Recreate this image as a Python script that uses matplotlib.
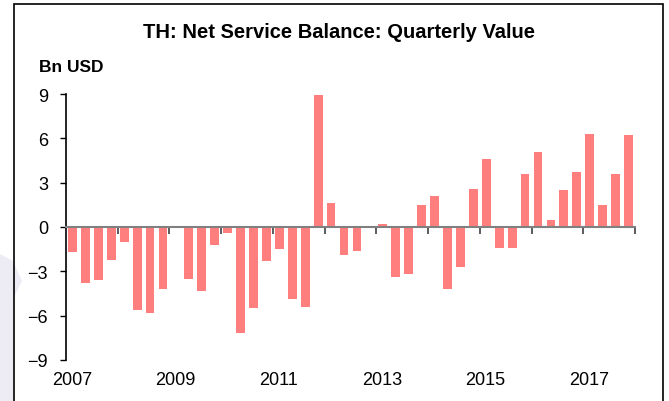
import matplotlib.pyplot as plt
from matplotlib.patches import Polygon, Rectangle

plt.rcParams['font.family'] = ['Liberation Sans', 'DejaVu Sans']

# quarterly values 2007Q1 .. 2017Q4, bn USD
years = list(range(2007, 2018))
values = [
    -1.7, -3.8, -3.6, -2.2,     # 2007
    -1.0, -5.6, -5.8, -4.2,     # 2008
    -0.05, -3.5, -4.3, -1.2,    # 2009
    -0.4, -7.2, -5.5, -2.3,     # 2010
    -1.5, -4.9, -5.4, 8.9,      # 2011
    1.6, -1.9, -1.6, 0.1,       # 2012
    0.2, -3.4, -3.2, 1.5,       # 2013
    2.1, -4.2, -2.7, 2.6,       # 2014
    4.6, -1.4, -1.4, 3.6,       # 2015
    5.1, 0.5, 2.5, 3.7,         # 2016
    6.3, 1.5, 3.6, 6.2,         # 2017
]
yticks = [-9, -6, -3, 0, 3, 6, 9]
year_labels = [str(y) for y in years[::2]]

W, H = 669, 402
fig = plt.figure(figsize=(W / 100, H / 100), dpi=100)

# faint watermark shape at the lower left
wm = [(0, 255), (13, 262), (22, 282), (13, 300), (13, 402), (0, 402)]
fig.patches.append(Polygon([(x / W, 1 - y / H) for x, y in wm], closed=True,
                           transform=fig.transFigure, facecolor='#EDECF5',
                           edgecolor='none', zorder=0))
# outer frame
fig.patches.append(Rectangle((13.5 / W, -0.05), (663 - 13.5) / W, 1 - 5 / H + 0.05,
                             transform=fig.transFigure, fill=False,
                             edgecolor='black', linewidth=1.2, zorder=1))

ax = fig.add_axes([66 / W, (H - 361) / H, (635 - 66) / W, (361 - 95) / H])
ax.patch.set_alpha(0)

x = list(range(len(values)))
ax.bar(x, values, width=0.68, color='#FF7F7F', zorder=2)

ax.set_xlim(-0.5, len(values) - 0.5)
ax.set_ylim(-9, 9)
ax.set_yticks(yticks)
ax.tick_params(axis='y', labelsize=13, length=4, width=1, direction='out', pad=9)

# year boundary ticks on the zero line, labels every two years
ax.spines['bottom'].set_position(('data', 0))
ax.spines['bottom'].set_color('#808080')
ax.spines['bottom'].set_linewidth(1.5)
ax.set_xticks([4 * k - 0.5 for k in range(1, len(years) + 1)])
ax.set_xticklabels([])
ax.tick_params(axis='x', length=5, width=1.2, color='#404040', direction='out')
for i, lab in enumerate(year_labels):
    ax.text(8 * i - 0.05, -10.3, lab, ha='center', va='center', fontsize=13)

for s in ['top', 'right']:
    ax.spines[s].set_visible(False)
ax.spines['left'].set_linewidth(1.2)

fig.text(339 / W, 1 - 32 / H, 'TH: Net Service Balance: Quarterly Value',
         ha='center', va='center', fontsize=14.5, fontweight='bold')
fig.text(39 / W, 1 - 68 / H, 'Bn USD', ha='left', va='center',
         fontsize=12.5, fontweight='bold')

fig.savefig('out.png', dpi=100)
